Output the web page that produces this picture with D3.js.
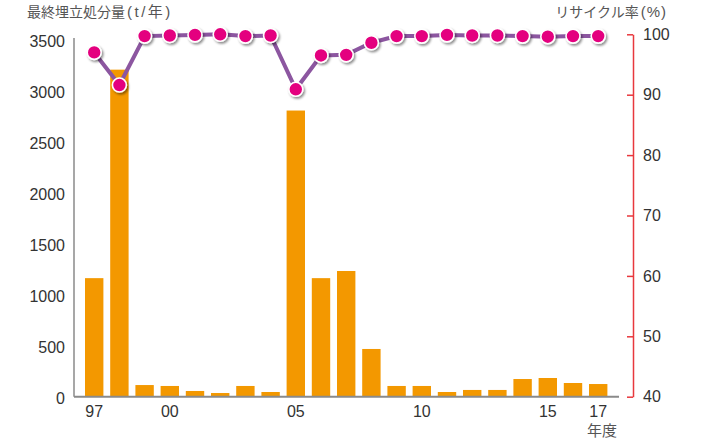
<!DOCTYPE html>
<html>
<head>
<meta charset="utf-8">
<script src="https://cdn.jsdelivr.net/npm/d3@7"></script>
<style>
  html, body { margin: 0; padding: 0; background: #fff; }
  svg { display: block; font-family: "Liberation Sans", Arial, "Noto Sans CJK JP", sans-serif; }
</style>
</head>
<body>
<svg id="chart" width="713" height="442"></svg>
<script>
// Fiscal years 1997–2017
const years = [1997, 1998, 1999, 2000, 2001, 2002, 2003, 2004, 2005, 2006, 2007,
               2008, 2009, 2010, 2011, 2012, 2013, 2014, 2015, 2016, 2017];
// Final landfill disposal amount (t/year)
const landfill = [1160, 3200, 114, 105, 56, 36, 105, 46, 2800, 1160, 1230,
                  467, 105, 105, 46, 66, 66, 173, 183, 134, 124];
// Recycling rate (%)
const recycleRate = [97.0, 91.6, 99.7, 99.8, 99.9, 100, 99.7, 99.8, 90.9, 96.5, 96.6,
                     98.6, 99.7, 99.7, 99.9, 99.8, 99.8, 99.7, 99.6, 99.7, 99.7];
// Axis ticks
const leftTicks = [0, 500, 1000, 1500, 2000, 2500, 3000, 3500];
const rightTicks = [40, 50, 60, 70, 80, 90, 100];
const yearTicks = [1997, 2000, 2005, 2010, 2015, 2017];

const svg = d3.select("#chart");

const plotLeft = 74, plotRight = 619, baseY = 396.7;

const x = d3.scaleBand()
  .domain(years)
  .range([81.6, 610.8])
  .paddingInner(0.27)
  .paddingOuter(0.135);

const yL = d3.scaleLinear().domain([0, 3500]).range([baseY, 39]);
const yR = d3.scaleLinear().domain([40, 100]).range([baseY, 34.3]);

// drop shadow for the rate markers
const defs = svg.append("defs");
const f = defs.append("filter").attr("id", "shadow")
  .attr("x", "-50%").attr("y", "-50%").attr("width", "200%").attr("height", "200%");
f.append("feDropShadow").attr("dx", 1.5).attr("dy", 1.8)
  .attr("stdDeviation", 1.1).attr("flood-color", "#000").attr("flood-opacity", 0.45);

// bars
svg.append("g").selectAll("rect").data(years).join("rect")
  .attr("x", d => x(d))
  .attr("width", x.bandwidth())
  .attr("y", (d, i) => yL(landfill[i]))
  .attr("height", (d, i) => baseY - yL(landfill[i]))
  .attr("fill", "#f39800");

// left axis
const gL = svg.append("g").attr("transform", `translate(${plotLeft},0)`)
  .call(d3.axisLeft(yL).tickValues(leftTicks).tickSize(0).tickPadding(9).tickFormat(d3.format("d")));
gL.select(".domain").remove();
gL.selectAll("text").attr("fill", "#333").style("font-size", "16px").attr("dy", "0.45em");
svg.append("line")
  .attr("x1", plotLeft).attr("x2", plotLeft).attr("y1", 38).attr("y2", baseY)
  .attr("stroke", "#8a8a8a").attr("stroke-width", 1.5);

// bottom axis
const gB = svg.append("g").attr("transform", `translate(0,${baseY})`)
  .call(d3.axisBottom(x).tickValues(yearTicks).tickSize(0).tickPadding(9)
    .tickFormat(d => String(d).slice(2)));
gB.select(".domain").remove();
gB.selectAll("text").attr("fill", "#333").style("font-size", "16px");
svg.append("line")
  .attr("x1", plotLeft).attr("x2", plotRight).attr("y1", baseY).attr("y2", baseY)
  .attr("stroke", "#8a8a8a").attr("stroke-width", 2);

// right axis
const gR = svg.append("g").attr("transform", "translate(633,0)")
  .call(d3.axisRight(yR).tickValues(rightTicks).tickSizeInner(-6).tickSizeOuter(0).tickPadding(10));
gR.select(".domain").attr("stroke", "#e8383d").attr("stroke-width", 1.5);
gR.selectAll(".tick line").attr("stroke", "#e8383d").attr("stroke-width", 1.5);
gR.selectAll("text").attr("fill", "#333").style("font-size", "16px");

// rate line
const cx = d => x(d) + x.bandwidth() / 2;
const line = d3.line().x((d, i) => cx(years[i])).y(d => yR(d));
svg.append("path").datum(recycleRate)
  .attr("d", line)
  .attr("fill", "none")
  .attr("stroke", "#8c56a0")
  .attr("stroke-width", 4);

svg.append("g").selectAll("circle").data(recycleRate).join("circle")
  .attr("cx", (d, i) => cx(years[i]))
  .attr("cy", d => yR(d))
  .attr("r", 7)
  .attr("fill", "#e4007f")
  .attr("stroke", "#fff")
  .attr("stroke-width", 1.6)
  .attr("filter", "url(#shadow)");

// axis titles
const tL = svg.append("text").attr("x", 27).attr("y", 17)
  .attr("fill", "#555").style("font-size", "14px");
tL.append("tspan").text("最終埋立処分量");
tL.append("tspan").attr("dx", 2).style("font-size", "15px").style("letter-spacing", "2.5px").text("(t/年)");

const tR = svg.append("text").attr("x", 667).attr("y", 17).attr("text-anchor", "end")
  .attr("fill", "#555").style("font-size", "14px");
tR.append("tspan").text("リサイクル率");
tR.append("tspan").attr("dx", 2).style("font-size", "15px").style("letter-spacing", "1px").text("(%)");

svg.append("text").attr("x", 587).attr("y", 436)
  .attr("fill", "#555").style("font-size", "15px")
  .text("年度");
</script>
</body>
</html>
